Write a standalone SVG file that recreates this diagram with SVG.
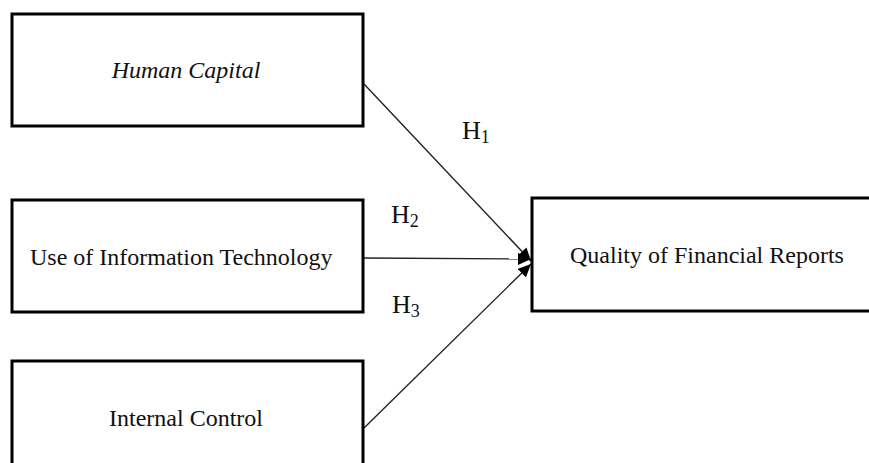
<svg xmlns="http://www.w3.org/2000/svg" width="869" height="463" viewBox="0 0 869 463">
  <style>
    .box { fill: #ffffff; stroke: #000000; stroke-width: 3; }
    .lbl { font-family: "Liberation Serif", "Times New Roman", serif; font-size: 24px; fill: #111111; }
    .hyp { font-family: "Liberation Serif", "Times New Roman", serif; font-size: 26px; fill: #111111; }
    .sub { font-size: 18px; }
    .conn { stroke: #222222; stroke-width: 1.4; fill: none; marker-end: url(#arr); }
  </style>
  <defs>
    <marker id="arr" markerUnits="userSpaceOnUse" markerWidth="14" markerHeight="12" refX="13" refY="6" orient="auto">
      <path d="M0,0 L13,6 L0,12 Z" fill="#000000"/>
    </marker>
  </defs>
  <rect width="869" height="463" fill="#ffffff"/>
  <g id="connectors">
    <line class="conn" x1="364" y1="84" x2="531" y2="261"/>
    <line class="conn" x1="364" y1="258" x2="531" y2="259"/>
    <line class="conn" x1="364" y1="428" x2="531" y2="264"/>
  </g>
  <g id="node-human-capital">
    <rect class="box" x="12" y="14" width="351" height="112"/>
    <text class="lbl" x="186" y="78" text-anchor="middle" font-style="italic">Human Capital</text>
  </g>
  <g id="node-it">
    <rect class="box" x="12" y="200" width="351" height="112"/>
    <text class="lbl" x="30" y="265">Use of Information Technology</text>
  </g>
  <g id="node-internal-control">
    <rect class="box" x="12" y="361" width="351" height="120"/>
    <text class="lbl" x="186" y="426" text-anchor="middle">Internal Control</text>
  </g>
  <g id="node-quality">
    <rect class="box" x="532" y="198" width="345" height="113"/>
    <text class="lbl" x="570" y="263">Quality of Financial Reports</text>
  </g>
  <g id="labels">
    <text class="hyp" x="462" y="139">H<tspan class="sub" dy="4">1</tspan></text>
    <text class="hyp" x="391" y="223">H<tspan class="sub" dy="4">2</tspan></text>
    <text class="hyp" x="392" y="313">H<tspan class="sub" dy="4">3</tspan></text>
  </g>
</svg>
